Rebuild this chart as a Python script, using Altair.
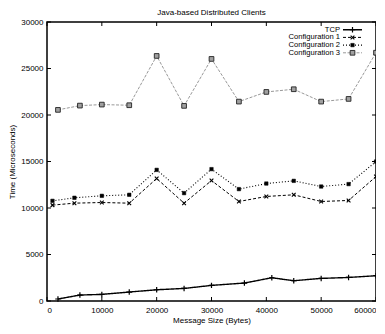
import altair as alt
import pandas as pd

# ---- data ----
series_names = ["TCP", "Configuration 1", "Configuration 2", "Configuration 3"]

x_tcp = [2000, 6000, 10000, 15000, 20000, 25000, 30000, 36000, 41000, 45000, 50000, 55000, 60000]
tcp = [215, 640, 710, 965, 1210, 1350, 1680, 1930, 2500, 2180, 2430, 2530, 2720]

x_cfg12 = [1000, 5000, 10000, 15000, 20000, 25000, 30000, 35000, 40000, 45000, 50000, 55000, 60000]
cfg1 = [10310, 10520, 10590, 10520, 13170, 10520, 12950, 10700, 11240, 11420, 10700, 10810, 13380]
cfg2 = [10770, 11100, 11310, 11420, 14100, 11600, 14180, 12030, 12630, 12920, 12310, 12570, 14990]

x_cfg3 = [2000, 6000, 10000, 15000, 20000, 25000, 30000, 35000, 40000, 45000, 50000, 55000, 60000]
cfg3 = [20550, 21010, 21120, 21050, 26350, 20980, 26030, 21440, 22480, 22770, 21440, 21730, 26700]

x_ticks = [0, 10000, 20000, 30000, 40000, 50000, 60000]
y_ticks = [0, 5000, 10000, 15000, 20000, 25000, 30000]

# ---- build tables ----
xs = [x_tcp, x_cfg12, x_cfg12, x_cfg3]
ys = [tcp, cfg1, cfg2, cfg3]
rows = []
for name, xv, yv in zip(series_names, xs, ys):
    for a, b in zip(xv, yv):
        rows.append({"size": a, "time": b, "series": name})
df = pd.DataFrame(rows)
xt = pd.DataFrame({"v": x_ticks})
yt = pd.DataFrame({"v": y_ticks})

W, H = 329, 279
FONT = "Liberation Sans"

xscale = alt.Scale(domain=[0, 60000], nice=False, zero=False)
yscale = alt.Scale(domain=[0, 30000], nice=False, zero=False)

plus_path = "M-1,0L1,0M0,-1L0,1"
x_path = "M-1,-1L1,1M-1,1L1,-1"

styles = {
    "TCP": dict(color="black", dash=[1, 0], width=1.4,
                shape=plus_path, size=30, filled=False, fill=None, stroke="black", sw=1.2),
    "Configuration 1": dict(color="black", dash=[3, 2], width=1.0,
                            shape=x_path, size=14, filled=False, fill=None, stroke="black", sw=1.1),
    "Configuration 2": dict(color="black", dash=[1, 2], width=1.1,
                            shape="square", size=12, filled=True, fill="black", stroke="black", sw=0.5),
    "Configuration 3": dict(color="#999999", dash=[3, 1.5], width=1.0,
                            shape="square", size=22, filled=True, fill="#a0a0a0", stroke="#222222", sw=0.9),
}

layers = []
for i, name in enumerate(series_names):
    st = styles[name]
    base = alt.Chart(df).transform_filter(alt.datum.series == name)
    line = base.mark_line(color=st["color"], strokeDash=st["dash"], strokeWidth=st["width"]).encode(
        x=alt.X("size:Q", scale=xscale),
        y=alt.Y("time:Q", scale=yscale),
    )
    pt_kwargs = dict(shape=st["shape"], size=st["size"], filled=st["filled"],
                     stroke=st["stroke"], strokeWidth=st["sw"], opacity=1)
    if st["fill"]:
        pt_kwargs["fill"] = st["fill"]
    pts = base.mark_point(**pt_kwargs).encode(
        x=alt.X("size:Q", scale=xscale),
        y=alt.Y("time:Q", scale=yscale),
    )
    layers += [line, pts]

    # legend entry (top-right, gnuplot style: label then sample)
    ly = 7.7 + 7.7 * i
    leg_df = pd.DataFrame({"label": [name]})
    ltxt = alt.Chart(leg_df).mark_text(align="right", baseline="middle", font=FONT,
                                       fontSize=7.6, color="#000000").encode(
        text="label:N", x=alt.value(293), y=alt.value(ly))
    lline = alt.Chart(leg_df).mark_rule(color=st["color"], strokeDash=st["dash"],
                                        strokeWidth=st["width"]).encode(
        x=alt.value(296), x2=alt.value(315), y=alt.value(ly))
    lpt = alt.Chart(leg_df).mark_point(**pt_kwargs).encode(
        x=alt.value(305.5), y=alt.value(ly))
    layers += [ltxt, lline, lpt]

# inward ticks on all four sides (gnuplot style)
tick_len = 4
layers += [
    alt.Chart(xt).mark_rule(color="black", strokeWidth=1).encode(
        x=alt.X("v:Q", scale=xscale), y=alt.value(H), y2=alt.value(H - tick_len)),
    alt.Chart(xt).mark_rule(color="black", strokeWidth=1).encode(
        x=alt.X("v:Q", scale=xscale), y=alt.value(0), y2=alt.value(tick_len)),
    alt.Chart(yt).mark_rule(color="black", strokeWidth=1).encode(
        y=alt.Y("v:Q", scale=yscale), x=alt.value(0), x2=alt.value(tick_len)),
    alt.Chart(yt).mark_rule(color="black", strokeWidth=1).encode(
        y=alt.Y("v:Q", scale=yscale), x=alt.value(W), x2=alt.value(W - tick_len)),
]

chart = alt.layer(*layers).encode(
    x=alt.X("size:Q", scale=xscale,
            axis=alt.Axis(title="Message Size (Bytes)", values=x_ticks, format="d",
                          grid=False, ticks=False, domain=False, labelPadding=5,
                          labelFontSize=8, titleFontSize=8, titleFontWeight="normal",
                          labelFont=FONT, titleFont=FONT, titlePadding=2,
                          labelColor="black", titleColor="black")),
    y=alt.Y("time:Q", scale=yscale,
            axis=alt.Axis(title="Time (Microseconds)", values=y_ticks, format="d",
                          grid=False, ticks=False, domain=False, labelPadding=4,
                          labelFontSize=8, titleFontSize=8, titleFontWeight="normal",
                          labelFont=FONT, titleFont=FONT, titlePadding=4,
                          labelColor="black", titleColor="black")),
).properties(
    width=W, height=H,
    title=alt.TitleParams("Java-based Distributed Clients", fontSize=8, fontWeight="normal",
                          font=FONT, color="black", anchor="middle", offset=1),
    autosize=alt.AutoSizeParams(type="none"),
    padding={"left": 39, "top": 14, "right": 0, "bottom": 25},
    background="white",
).configure_view(
    stroke="black", strokeWidth=1.5
)

chart.save("out.html", embed_options={"renderer": "svg", "actions": False})
